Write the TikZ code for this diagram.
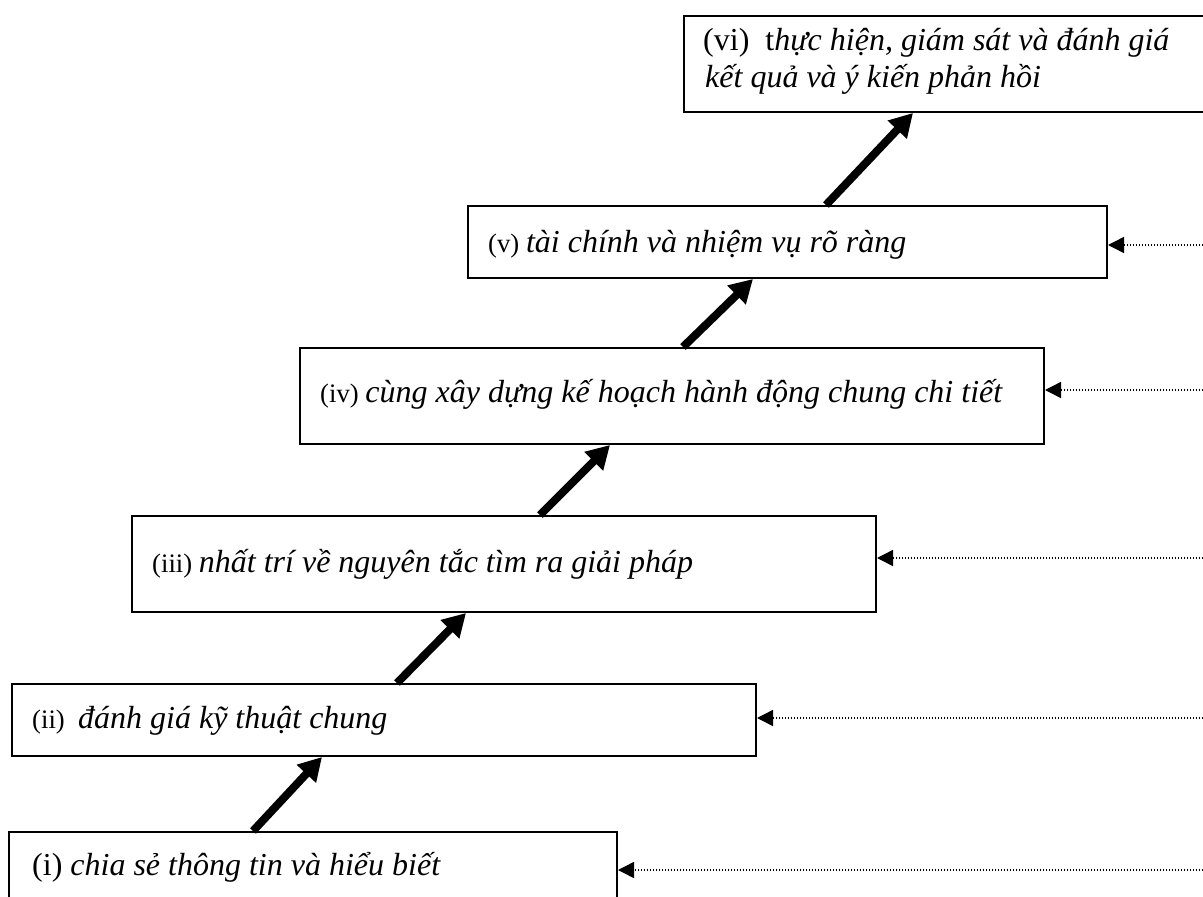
\documentclass[tikz,border=0pt]{standalone}
\usepackage{fontspec}
\setmainfont{Liberation Serif}
\usetikzlibrary{arrows.meta}
\newcommand\smlab[1]{{\fontsize{26.7}{30}\selectfont #1}}
\begin{document}
\begin{tikzpicture}[x=1pt,y=-1pt,
  box/.style={draw, line width=2pt, rectangle, inner sep=0pt, anchor=north west},
  txt/.style={anchor=base west, inner sep=0pt, font=\fontsize{32}{37}\selectfont},
  bigarrow/.style={line width=8pt, -{Triangle[length=23pt,width=25pt]}},
  feedarrow/.style={line width=1.5pt, dash pattern=on 1.5pt off 1.5pt, -{Triangle[length=16pt,width=16pt]}}]
\useasboundingbox[fill=white] (0,0) rectangle (1203,897);
% boxes
\node[box, minimum width=547pt, minimum height=96pt] (vi) at (683,15) {};
\node[box, minimum width=639pt, minimum height=72pt] (v) at (467,205) {};
\node[box, minimum width=744pt, minimum height=96pt] (iv) at (299,347) {};
\node[box, minimum width=744pt, minimum height=96pt] (iii) at (131,515) {};
\node[box, minimum width=744pt, minimum height=72pt] (ii) at (11,683) {};
\node[box, minimum width=608pt, minimum height=99pt] (i) at (8,831) {};
% texts
\node[txt] (tvi1) at (703,50) {(vi)\ \ t\textit{hực hiện, giám sát và đánh giá}};
\node[txt] (tvi2) at (705,87) {\textit{kết quả và ý kiến phản hồi}};
\node[txt] (tv) at (488,252) {\smlab{(v) }\textit{tài chính và nhiệm vụ rõ ràng}};
\node[txt] (tiv) at (320,402) {\smlab{(iv) }\textit{cùng xây dựng kế hoạch hành động chung chi tiết}};
\node[txt] (tiii) at (152,572) {\smlab{(iii) }\textit{nhất trí về nguyên tắc tìm ra giải pháp}};
\node[txt] (tii) at (32,728) {\smlab{(ii)\ \ }\textit{đánh giá kỹ thuật chung}};
\node[txt] (ti) at (32,875) {(i) \textit{chia sẻ thông tin và hiểu biết}};
% progression arrows
\draw[bigarrow] ([xshift=245pt]i.north west) -- ([xshift=311pt]ii.south west);
\draw[bigarrow] ([xshift=386pt]ii.north west) -- ([xshift=335pt]iii.south west);
\draw[bigarrow] ([xshift=409pt]iii.north west) -- ([xshift=311pt]iv.south west);
\draw[bigarrow] ([xshift=384pt]iv.north west) -- ([xshift=286pt]v.south west);
\draw[bigarrow] ([xshift=359pt]v.north west) -- ([xshift=230pt]vi.south west);
% feedback arrows
\coordinate (fv) at (1203,245);
\coordinate (fiv) at (1203,390);
\coordinate (fiii) at (1203,558);
\coordinate (fii) at (1203,718);
\coordinate (fi) at (1203,870);
\draw[feedarrow] (fv) -- (fv -| v.east);
\draw[feedarrow] (fiv) -- (fiv -| iv.east);
\draw[feedarrow] (fiii) -- (fiii -| iii.east);
\draw[feedarrow] (fii) -- (fii -| ii.east);
\draw[feedarrow] (fi) -- (fi -| i.east);
\end{tikzpicture}
\end{document}
